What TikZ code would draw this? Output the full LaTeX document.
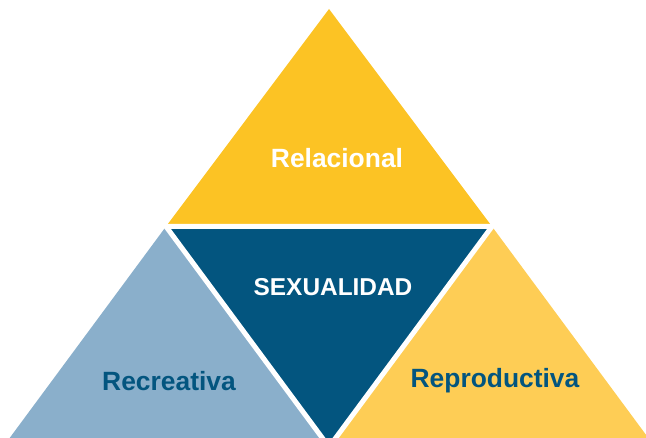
\documentclass[tikz,border=0pt]{standalone}
\usepackage{fontspec}
\setmainfont{Liberation Sans}
\usepackage{xcolor}
\usepackage{tikz}
\usetikzlibrary{positioning}

\definecolor{goldtop}{HTML}{FCC324}
\definecolor{goldlight}{HTML}{FECD55}
\definecolor{bluedark}{HTML}{03557F}
\definecolor{bluelight}{HTML}{8AAFCB}

\begin{document}
\begin{tikzpicture}[x=1pt, y=-1pt,
		labelnode/.style={font=\bfseries\fontsize{26.4}{31}\selectfont, inner sep=0pt},
		gapline/.style={draw=white, line width=5pt, line join=miter},
	]

		\useasboundingbox (0,0) rectangle (646,438);
		\clip (0,0) rectangle (646,438);

		% corners
		\coordinate (apex)  at (329,9);
		\coordinate (left)  at (3,447);
		\coordinate (right) at (655,447);
		\coordinate (midl)  at (166,226.5);
		\coordinate (midr)  at (492,226.5);
		\coordinate (midb)  at (329,447);

		% triangles
		\fill[goldtop]   (apex) -- (midl) -- (midr) -- cycle;
		\fill[bluelight] (midl) -- (left) -- (midb) -- cycle;
		\fill[goldlight] (midr) -- (midb) -- (right) -- cycle;
		\fill[bluedark]  (midl) -- (midr) -- (midb) -- cycle;

		% lines
		\draw[gapline] (midl) -- (midr) -- (midb) -- cycle;

		% nodes
		\node[labelnode, text=white]    (relacional)   at (337,158) {Relacional};
		\node[labelnode, text=white, font=\bfseries\fontsize{24.4}{29}\selectfont]
		                                (sexualidad)   at (333,287) {SEXUALIDAD};
		\node[labelnode, text=bluedark] (recreativa)   at (169,381) {Recreativa};
		\node[labelnode, text=bluedark] (reproductiva) at (495,381) {Reproductiva};

	\end{tikzpicture}
\end{document}
